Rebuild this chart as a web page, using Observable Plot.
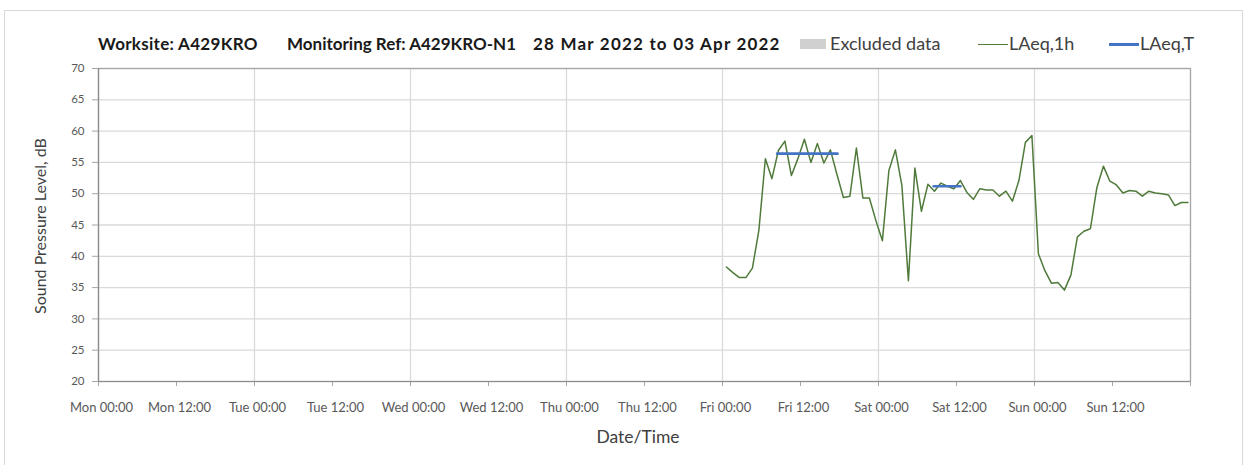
<!DOCTYPE html>
<html><head><meta charset="utf-8">
<script src="https://cdn.jsdelivr.net/npm/d3@7"></script>
<script src="https://cdn.jsdelivr.net/npm/@observablehq/plot@0.6"></script>
<style>
body{margin:0;background:#fff;}
#wrap{position:relative;width:1251px;height:465px;font-family:Lato,"Open Sans",sans-serif;overflow:hidden;}
#border{position:absolute;left:4px;top:10px;width:1239px;height:470px;border:1px solid #d9d9d9;box-sizing:border-box;}
#chart{position:absolute;left:0;top:0;}
.t{position:absolute;white-space:pre;line-height:1;}
.ttl{top:35px;font-weight:bold;font-size:17px;color:#1a1a1a;}
.lg{top:34px;font-size:18px;color:#404040;}
.sw{position:absolute;}
#ylab{left:40px;top:226px;font-size:16px;color:#404040;transform:translate(-50%,-50%) rotate(-90deg);}
#xlab{left:638px;top:437px;font-size:17.5px;color:#404040;transform:translate(-50%,-50%);}
</style></head>
<body>
<div id="wrap">
  <div id="border"></div>
  <div id="chart"></div>
  <div id="titles"></div>
  <div id="legend"></div>
  <div class="t" id="ylab"></div>
  <div class="t" id="xlab"></div>
</div>
<script>
// ---- Data ----
const titleParts = ["Worksite: A429KRO", "Monitoring Ref: A429KRO-N1", "28 Mar 2022 to 03 Apr 2022"];
const yLabel = "Sound Pressure Level, dB";
const xLabel = "Date/Time";
const seriesNames = ["Excluded data", "LAeq,1h", "LAeq,T"];
const seriesColors = ["#d0d0d0", "#4f7a3a", "#4472c4"];

// x tick positions in hours since Mon 00:00 and their labels
const xTickHours = [0, 12, 24, 36, 48, 60, 72, 84, 96, 108, 120, 132, 144, 156];
const xTickLabels = ["Mon 00:00","Mon 12:00","Tue 00:00","Tue 12:00","Wed 00:00","Wed 12:00","Thu 00:00","Thu 12:00","Fri 00:00","Fri 12:00","Sat 00:00","Sat 12:00","Sun 00:00","Sun 12:00"];
const xDomain = [0, 168];
const yTicks = [20, 25, 30, 35, 40, 45, 50, 55, 60, 65, 70];

// LAeq,1h: hourly values, first one at laeq1hStart hours since Mon 00:00
const laeq1hStart = 96.6;
const laeq1h = [
  // Fri
  38.3, 37.4, 36.6, 36.6, 38.1, 44.2, 55.6, 52.4, 56.9, 58.4, 52.9, 55.6,
  58.7, 55.0, 58.0, 54.9, 57.0, 53.1, 49.4, 49.6, 57.3, 49.3, 49.3, 45.7,
  // Sat
  42.5, 53.7, 57.0, 51.3, 36.1, 54.1, 47.2, 51.5, 50.4, 51.7, 51.2, 50.8,
  52.1, 50.2, 49.1, 50.8, 50.6, 50.6, 49.6, 50.4, 48.8, 52.1, 58.2, 59.3,
  // Sun
  40.4, 37.7, 35.7, 35.8, 34.6, 37.0, 43.1, 44.0, 44.4, 51.0, 54.4, 52.0,
  51.4, 50.1, 50.5, 50.4, 49.6, 50.4, 50.1, 50.0, 49.8, 48.1, 48.6, 48.6
];

// LAeq,T periods (hours since Mon 00:00) and values
const laeqTFrom  = [104.4, 128.5];
const laeqTTo    = [113.7, 132.6];
const laeqTValue = [56.4, 51.2];

// ---- Build tables ----
const hourly = laeq1h.map((v, i) => ({t: laeq1hStart + i, v}));
const periods = laeqTValue.flatMap((v, i) => [
  {seg: i, t: laeqTFrom[i], v},
  {seg: i, t: laeqTTo[i], v}
]);
const dayLines = d3.range(xDomain[0], xDomain[1] + 1, 24);
const allTicks = d3.range(xDomain[0], xDomain[1] + 1, 12);

const chart = Plot.plot({
  width: 1251,
  height: 465,
  marginLeft: 98,
  marginRight: 61,
  marginTop: 68,
  marginBottom: 84,
  x: {type: "linear", domain: xDomain},
  y: {domain: [yTicks[0], yTicks[yTicks.length - 1]]},
  style: {fontFamily: "Lato, 'Open Sans', sans-serif", fontSize: "13px", color: "#595959", background: "transparent"},
  marks: [
    Plot.gridY(yTicks, {stroke: "#d9d9d9", strokeOpacity: 1, strokeWidth: 1.3}),
    Plot.gridX(dayLines, {stroke: "#d9d9d9", strokeOpacity: 1, strokeWidth: 1.3}),
    Plot.frame({stroke: "#a6a6a6", strokeWidth: 1.2}),
    Plot.axisY(yTicks, {tickSize: 6, tickPadding: 8, label: null, stroke: "#a6a6a6", fill: "#595959", fontSize: 11.5}),
    // tick marks only
    Plot.axisX(allTicks, {tickSize: 5, label: null, stroke: "#a6a6a6", tickFormat: () => ""}),
    // tick labels only
    Plot.axisX(xTickHours, {tickSize: 0, tickPadding: 21, label: null, fill: "#595959", dx: 3,
      tickFormat: d => xTickLabels[xTickHours.indexOf(d)]}),
    Plot.ruleX([xDomain[0]], {stroke: "#8c8c8c", strokeWidth: 1.2}),
    Plot.ruleY([yTicks[0]], {stroke: "#8c8c8c", strokeWidth: 1.2}),
    Plot.line(hourly, {x: "t", y: "v", stroke: seriesColors[1], strokeWidth: 1.5}),
    Plot.line(periods, {x: "t", y: "v", z: "seg", stroke: seriesColors[2], strokeWidth: 2.6})
  ]
});
document.getElementById("chart").appendChild(chart);

// title segments
const titleLeft = [98, 287, 533];
const titleSpacing = ["0.3px", "0px", "1.2px"];
const titles = document.getElementById("titles");
titleParts.forEach((s, i) => {
  const d = document.createElement("div");
  d.className = "t ttl";
  d.style.left = titleLeft[i] + "px";
  d.style.letterSpacing = titleSpacing[i];
  d.textContent = s;
  titles.appendChild(d);
});

document.getElementById("ylab").textContent = yLabel;
document.getElementById("xlab").textContent = xLabel;

// legend
const legend = document.getElementById("legend");
const swLeft = [800, 978, 1109];
const txtLeft = [830, 1009, 1140];
seriesNames.forEach((name, i) => {
  const sw = document.createElement("div");
  sw.className = "sw";
  sw.style.left = swLeft[i] + "px";
  sw.style.background = seriesColors[i];
  if (i === 0) { sw.style.width = "26px"; sw.style.height = "10px"; sw.style.top = "39px"; }
  else { sw.style.width = "30px"; sw.style.height = i === 2 ? "2.5px" : "1.5px"; sw.style.top = i === 2 ? "43px" : "43.5px"; }
  legend.appendChild(sw);
  const tx = document.createElement("div");
  tx.className = "t lg";
  tx.style.left = txtLeft[i] + "px";
  tx.textContent = name;
  legend.appendChild(tx);
});
</script>
</body></html>
